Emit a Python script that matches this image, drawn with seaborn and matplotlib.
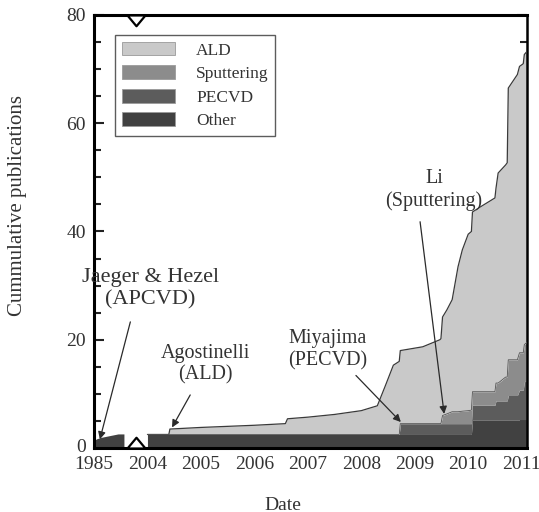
import numpy as np
import matplotlib
matplotlib.use("Agg")
import matplotlib.pyplot as plt
import seaborn as sns
from matplotlib.patches import Patch
from matplotlib.transforms import ScaledTranslation

# ---------------- data ----------------
categories = ["ALD", "Sputtering", "PECVD", "Other"]
colors = ["#c9c9c9", "#8c8c8c", "#5c5c5c", "#414141"]

# early segment (before the axis break)
dates_1985 = [1985.00, 1985.05, 1985.15, 1985.30, 1985.45, 1985.56]
other_1985 = [1.4, 1.7, 2.0, 2.3, 2.6, 2.6]

# main segment (2004 onwards), cumulative publications per category
dates = [2004.00, 2004.40, 2004.42, 2005.00, 2006.00, 2006.58, 2006.62, 2007.00,
         2007.50, 2008.00, 2008.30, 2008.45, 2008.60, 2008.71, 2008.73, 2009.15,
         2009.47, 2009.49, 2009.52, 2009.60, 2009.70, 2009.81, 2009.89, 2010.00,
         2010.06, 2010.08, 2010.22, 2010.50, 2010.52, 2010.56, 2010.70, 2010.73,
         2010.75, 2010.92, 2010.96, 2011.03, 2011.05, 2011.12]
other = [2.5, 2.5, 2.5, 2.5, 2.5, 2.5, 2.5, 2.5,
         2.5, 2.5, 2.5, 2.5, 2.5, 2.5, 2.5, 2.5,
         2.5, 2.5, 2.5, 2.5, 2.5, 2.5, 2.5, 2.5,
         2.5, 5.2, 5.2, 5.2, 5.2, 5.2, 5.2, 5.2,
         5.2, 5.2, 5.2, 5.2, 5.2, 5.2]
pecvd = [0, 0, 0, 0, 0, 0, 0, 0,
         0, 0, 0, 0, 0, 0, 2.0, 2.0,
         2.0, 2.0, 2.0, 2.0, 2.0, 2.0, 2.0, 2.0,
         2.0, 2.7, 2.7, 2.7, 3.5, 3.5, 3.5, 3.5,
         4.5, 4.5, 5.5, 5.5, 7.0, 7.5]
sputtering = [0, 0, 0, 0, 0, 0, 0, 0,
              0, 0, 0, 0, 0, 0, 0, 0,
              0, 0, 1.5, 1.8, 2.2, 2.2, 2.3, 2.4,
              2.5, 2.5, 2.5, 2.5, 3.3, 3.3, 4.4, 4.4,
              6.6, 6.6, 6.9, 6.9, 6.9, 7.0]
ald = [0, 0, 1.0, 1.3, 1.7, 2.0, 2.9, 3.2,
       3.7, 4.4, 5.3, 9.0, 12.8, 13.5, 13.5, 14.2,
       15.5, 15.7, 18.2, 19.2, 20.7, 26.8, 29.8, 32.6,
       33.0, 33.2, 34.1, 35.8, 36.0, 38.8, 39.2, 39.6,
       50.2, 52.7, 52.9, 53.4, 53.6, 53.8]

x_tick_labels = ["1985", "2004", "2005", "2006", "2007", "2008", "2009", "2010", "2011"]
y_major = [0, 20, 40, 60, 80]


def to_u(years):
    y = np.asarray(years, dtype=float)
    return np.where(y < 2004, y - 1985, y - 2003)


# ---------------- style ----------------
sns.set_theme(style="white")
plt.rcParams["font.family"] = ["Liberation Serif", "DejaVu Serif"]

fig = plt.figure(figsize=(5.39, 5.12), dpi=100)
ax = fig.add_axes([94 / 539, 1 - 448 / 512, 433 / 539, 433 / 512])

# early segment
u85 = to_u(dates_1985)
ax.fill_between(u85, 0, other_1985, color=colors[3], lw=0, zorder=2)

# main stacked segment
u = to_u(dates)
layers = [("Other", other, colors[3]), ("PECVD", pecvd, colors[2]),
          ("Sputtering", sputtering, colors[1]), ("ALD", ald, colors[0])]
base = np.zeros(len(u))
tops = []
for name, vals, col in layers:
    top = base + np.asarray(vals, dtype=float)
    ax.fill_between(u, base, top, color=col, lw=0, zorder=2)
    tops.append(top)
    base = top

# boundary outlines
sns.lineplot(x=u, y=tops[-1], color="#3a3a3a", lw=0.9, sort=False, ax=ax, zorder=3)
sns.lineplot(x=u, y=tops[2], color="#555555", lw=0.6, sort=False, ax=ax, zorder=3)

ax.set_xlim(0, 8.1)
ax.set_ylim(0, 80)
ax.set_xticks(range(len(x_tick_labels)))
ax.set_xticklabels(x_tick_labels)
ax.set_yticks(y_major)
ax.set_yticks(np.arange(0, 81, 5), minor=True)
ax.tick_params(axis="x", length=0, pad=6, labelsize=14, colors="#333333")
ax.tick_params(axis="y", which="both", direction="in", left=True, right=True,
               labelsize=14, colors="#222222", labelcolor="#333333")
ax.tick_params(axis="y", which="major", length=7, width=1.5, pad=6)
ax.tick_params(axis="y", which="minor", length=5, width=1.5)
for sp in ax.spines.values():
    sp.set_visible(True)
    sp.set_color("black")
    sp.set_linewidth(2.2)
ax.spines["right"].set_linewidth(1.8)

# nudge the "0" label up slightly so it clears the "1985" label
zero_lbl = ax.get_yticklabels()[0]
zero_lbl.set_transform(zero_lbl.get_transform() + ScaledTranslation(0, 3 / 100, fig.dpi_scale_trans))

# axis break markers
ax.plot([0.78], [0], marker=[(-1, 0), (1, 0), (0, 1.2), (-1, 0)], ms=15.5,
        mfc="white", mec="black", mew=1.6, clip_on=False, zorder=6, ls="none")
ax.plot([0.78], [80], marker=[(-1, 0), (1, 0), (0, -1.2), (-1, 0)], ms=15.5,
        mfc="white", mec="black", mew=1.6, clip_on=False, zorder=6, ls="none")

# annotations
arrow = dict(arrowstyle="-|>", color="#2a2a2a", lw=0.9, mutation_scale=11,
             shrinkA=0, shrinkB=0)
txt = dict(ha="center", va="center", color="#333333", linespacing=1.2, zorder=7)
ax.text(1.05, 29.4, "Jaeger & Hezel\n(APCVD)", fontsize=16, **txt)
ax.annotate("", xy=(0.11, 1.6), xytext=(0.68, 23.3), arrowprops=arrow, zorder=7)
ax.text(2.08, 15.5, "Agostinelli\n(ALD)", fontsize=14.5, **txt)
ax.annotate("", xy=(1.46, 3.8), xytext=(1.80, 9.8), arrowprops=arrow, zorder=7)
ax.text(4.37, 18.1, "Miyajima\n(PECVD)", fontsize=14.5, **txt)
ax.annotate("", xy=(5.74, 4.8), xytext=(4.90, 13.4), arrowprops=arrow, zorder=7)
ax.text(6.36, 47.7, "Li\n(Sputtering)", fontsize=14.5, **txt)
ax.annotate("", xy=(6.55, 6.3), xytext=(6.10, 41.8), arrowprops=arrow, zorder=7)

# legend
handles = [Patch(facecolor=c, edgecolor="#9a9a9a", lw=0.6) for c in colors]
leg = ax.legend(handles, categories, loc="upper left",
                bbox_to_anchor=(21 / 433, 413 / 433), borderaxespad=0,
                fontsize=12.5, handlelength=3.1, handleheight=0.85,
                handletextpad=1.2, labelspacing=0.38, borderpad=0.38,
                frameon=True, fancybox=False, edgecolor="#333333")
leg.get_frame().set_linewidth(1.0)
for t in leg.get_texts():
    t.set_color("#333333")

# axis labels
fig.text(18 / 539, 1 - 205 / 512, "Cummulative publications", rotation=90,
         ha="center", va="center", fontsize=15, color="#333333")
fig.text(283 / 539, 1 - 505 / 512, "Date", ha="center", va="center",
         fontsize=14, color="#333333")

fig.savefig("out.png", dpi=100)
